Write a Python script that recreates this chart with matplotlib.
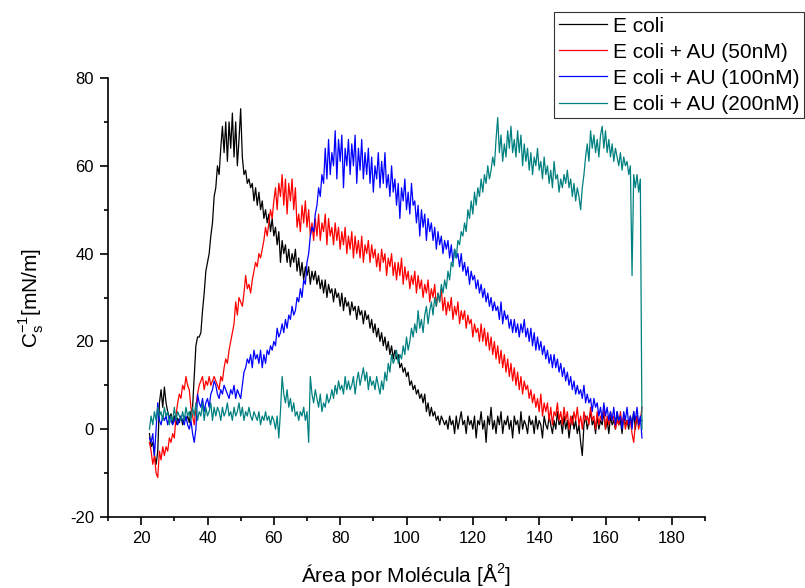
import numpy as np
import matplotlib
matplotlib.use("Agg")
import matplotlib.pyplot as plt
from matplotlib.ticker import MultipleLocator

plt.rcParams['font.family'] = ['Liberation Sans', 'DejaVu Sans']
plt.rcParams['mathtext.fontset'] = 'custom'
plt.rcParams['mathtext.rm'] = 'Liberation Sans'
plt.rcParams['axes.unicode_minus'] = False

# Data: x sampled every 0.5 A^2 starting at 22.5
x_start = 22.5
x_step = 0.5

labels = ["E coli", "E coli + AU (50nM)", "E coli + AU (100nM)", "E coli + AU (200nM)"]
colors = ["#000000", "#ff0000", "#0000ff", "#008080"]

ecoli = [
    -1, -4, -3, -6, -8, -5, 6, 9, 5, 9.6,
    6, 4, 2.5, 3.5, 1.5, 3, 1, 2.5, 1.5, 3,
    1, 2.5, 2, 3, 1.5, 4, 5, 12, 19, 21,
    21, 22, 27, 31, 36, 38, 40, 44, 47, 53,
    55, 60, 58, 64, 69, 63, 70, 61, 70, 64,
    72, 62, 70, 60, 66, 73, 62, 58, 59, 56,
    57, 55, 56, 52, 55, 51, 54, 50, 52, 48,
    50, 47, 49, 45, 48, 44, 46, 42, 45, 38,
    43, 40, 42, 38, 41, 37, 40, 38, 41, 36,
    39, 35, 38, 34, 37, 35, 37, 33, 36, 34,
    36, 33, 35, 32, 34, 31, 34, 30, 33, 31,
    32, 29, 32, 30, 31, 28, 31, 27, 30, 28,
    29, 26, 29, 27, 28, 25, 28, 26, 27, 24,
    27, 25, 26, 23, 25, 22, 24, 21, 23, 20,
    22, 19, 21, 18, 20, 17, 19, 16, 18, 16,
    17, 14, 15, 13, 14, 12, 13, 10, 11, 9,
    10, 8, 9, 7, 8, 6, 8, 4, 6, 3,
    5, 3, 4, 2, 3, 1, 3, 2, 1, 2,
    0, 3, 1, 2, -1, 3, 0, 2, 4, 1,
    2, -1, 3, 1, 2, 0, 3, -2, 2, 1,
    4, 0, 2, -3, 3, 1, 5, 0, 2, -1,
    3, 1, 4, -1, 2, 1, 3, 0, 2, -2,
    3, 1, 2, -1, 4, 0, 2, 1, -1, 3,
    1, 2, -1, 3, 0, 2, 1, -2, 3, 1,
    0, 3, 1, -1, 2, 0, 4, 1, 2, -1,
    3, 0, 2, -2, 1, 3, 0, 2, -1, 1,
    -3, -6, 1, 3, 0, 2, 4, 1, 2, -1,
    3, 0, 2, 1, 4, 0, 2, -1, 3, 1,
    2, 0, 4, 1, 2, -1, 3, 1, 2, 0,
    3, 1, 4, 0, 3, 1, 2, 2,
]

au50 = [
    -3, -5, -8, -6, -10, -11, -5, -7, -4, -6,
    -4, -5, -2, -3, -1, -2, 3, 6, 8, 7,
    10, 9, 12, 10, 9, 5, 3, 1, 5, 8,
    10, 11, 12, 9, 11, 10, 12, 10, 11, 12,
    11, 10, 9, 12, 11, 14, 16, 15, 18, 20,
    22, 24, 29, 26, 30, 29, 28, 31, 35, 32,
    33, 31, 34, 36, 38, 37, 40, 39, 41, 43,
    46, 44, 47, 50, 48, 52, 55, 50, 56, 53,
    58, 51, 57, 49, 56, 52, 57, 50, 55, 46,
    49, 45, 51, 47, 52, 46, 50, 44, 47, 43,
    48, 44, 49, 43, 47, 45, 49, 42, 48, 44,
    46, 42, 47, 43, 46, 41, 45, 42, 46, 40,
    44, 41, 45, 39, 44, 40, 43, 39, 44, 38,
    42, 40, 43, 38, 42, 39, 41, 37, 40, 36,
    41, 38, 40, 35, 39, 37, 40, 35, 38, 34,
    38, 35, 39, 33, 37, 34, 36, 32, 35, 33,
    36, 31, 35, 32, 34, 30, 33, 31, 34, 29,
    32, 30, 33, 28, 31, 29, 32, 27, 30, 26,
    29, 27, 30, 25, 28, 26, 29, 24, 27, 25,
    27, 23, 26, 24, 25, 21, 24, 22, 23, 20,
    24, 20, 23, 19, 22, 18, 21, 17, 20, 16,
    19, 15, 18, 14, 17, 13, 16, 12, 15, 11,
    14, 10, 13, 9, 12, 8, 11, 9, 10, 7,
    9, 6, 8, 5, 7, 4, 8, 3, 6, 4,
    6, 2, 5, 1, 4, 3, 6, 2, 4, 1,
    5, 2, 4, 0, 3, 1, 4, 2, 5, 1,
    3, 0, 4, 2, 3, 1, 5, 2, 3, 0,
    4, 1, 3, 2, 5, 0, 3, 1, 4, 2,
    3, 0, 2, 1, 4, 1, 3, 0, 2, 1,
    2, -1, -3, 1, 3, 0, 2, 5,
]

au100 = [
    -2, -3, -1, -6, 0, 6, 2, 1, 3, 2,
    3, 1, 3, 2, 1, 2, 3, 1, 2, 3,
    2, 1, 3, 1, 0, 2, -1, -3, 0, 8,
    6, 5, 7, 4, 6, 7, 5, 8, 9, 11,
    10, 8, 7, 9, 8, 10, 9, 8, 7, 9,
    8, 10, 7, 9, 8, 7, 10, 13, 14, 16,
    15, 17, 14, 18, 16, 17, 15, 18, 14, 17,
    15, 18, 17, 19, 18, 20, 19, 23, 21, 22,
    24, 22, 25, 23, 26, 25, 28, 26, 27, 30,
    29, 32, 30, 34, 33, 38, 40, 44, 46, 45,
    49, 51, 55, 53, 58, 56, 64, 57, 66, 58,
    63, 60, 68, 57, 66, 61, 67, 55, 64, 60,
    66, 58, 65, 60, 67, 56, 64, 59, 66, 57,
    63, 58, 64, 56, 62, 54, 60, 57, 63, 55,
    61, 56, 63, 55, 58, 53, 60, 54, 57, 51,
    56, 48, 55, 52, 57, 50, 54, 49, 56, 51,
    52, 47, 51, 44, 50, 46, 49, 43, 48, 45,
    47, 43, 46, 41, 45, 42, 44, 40, 43, 41,
    43, 39, 42, 38, 41, 39, 40, 37, 40, 36,
    38, 35, 37, 33, 36, 34, 35, 32, 34, 31,
    33, 30, 32, 29, 31, 28, 30, 27, 29, 27,
    28, 25, 29, 24, 27, 25, 26, 23, 25, 22,
    25, 22, 24, 21, 24, 22, 25, 21, 23, 20,
    23, 19, 22, 18, 21, 18, 20, 17, 19, 16,
    18, 15, 17, 14, 17, 14, 16, 13, 15, 12,
    14, 11, 13, 10, 12, 9, 11, 8, 10, 8,
    9, 7, 10, 6, 8, 6, 7, 4, 7, 5,
    6, 3, 5, 2, 6, 3, 5, 2, 4, 2,
    5, 1, 4, 2, 3, 0, 4, 2, 5, 1,
    3, 0, 4, 2, 5, 1, 3, -2,
]

au200 = [
    0, 3, 1, 4, 2, 5, 3, 4, 2, 5,
    3, 4, 1, 3, 2, 5, 2, 4, 3, 2,
    4, 2, 5, 3, 4, 2, 5, 3, 6, 2,
    4, 3, 6, 2, 5, 3, 4, 6, 2, 5,
    3, 5, 4, 2, 5, 3, 4, 6, 3, 4,
    2, 5, 3, 4, 6, 3, 5, 2, 4, 3,
    5, 3, 2, 4, 3, 2, 4, 1, 3, 2,
    4, 2, 3, 1, 3, 2, 0, 3, -2, 4,
    12, 8, 6, 9, 5, 7, 4, 6, 3, 4,
    2, 4, 3, 5, 2, 4, -3, 12, 8, 6,
    9, 7, 5, 8, 4, 6, 5, 8, 6, 7,
    9, 7, 10, 8, 11, 9, 10, 8, 12, 9,
    11, 9, 10, 12, 8, 11, 13, 10, 12, 14,
    11, 13, 9, 12, 10, 11, 9, 12, 10, 8,
    11, 9, 13, 11, 15, 13, 17, 15, 16, 18,
    15, 17, 16, 19, 17, 21, 18, 20, 23, 21,
    24, 22, 27, 23, 25, 22, 26, 28, 24, 27,
    29, 26, 30, 28, 31, 29, 33, 31, 34, 32,
    36, 34, 38, 37, 41, 39, 43, 42, 45, 44,
    47, 45, 50, 48, 52, 49, 54, 51, 55, 53,
    57, 54, 58, 56, 60, 57, 59, 62, 60, 66,
    71, 63, 67, 61, 65, 62, 68, 64, 69, 63,
    66, 62, 68, 63, 67, 60, 65, 61, 64, 59,
    63, 58, 62, 60, 64, 59, 61, 57, 62, 58,
    60, 56, 59, 55, 61, 57, 58, 54, 57, 55,
    58, 56, 59, 55, 57, 53, 56, 52, 55, 53,
    50, 55, 58, 62, 65, 61, 68, 64, 67, 63,
    66, 62, 67, 69, 64, 68, 63, 66, 62, 65,
    61, 64, 62, 60, 63, 59, 62, 60, 61, 58,
    60, 35, 58, 55, 58, 54, 57, 0,
]

series = [ecoli, au50, au100, au200]

fig = plt.figure(figsize=(8.05, 5.88), dpi=100)
ax = fig.add_axes([108/805, 1 - 517/588, 597/805, 439/588])

for y, c, lab in zip(series, colors, labels):
    y = np.asarray(y, dtype=float)
    x = x_start + x_step * np.arange(len(y))
    ax.plot(x, y, color=c, lw=0.9, label=lab)

ax.set_xlim(10, 190)
ax.set_ylim(-20, 80)
ax.xaxis.set_major_locator(MultipleLocator(20))
ax.xaxis.set_minor_locator(MultipleLocator(10))
ax.yaxis.set_major_locator(MultipleLocator(20))
ax.yaxis.set_minor_locator(MultipleLocator(10))
ax.set_xticks([20, 40, 60, 80, 100, 120, 140, 160, 180])
ax.spines['top'].set_visible(False)
ax.spines['right'].set_visible(False)
ax.spines['left'].set_linewidth(1.2)
ax.spines['bottom'].set_linewidth(1.2)
ax.tick_params(axis='both', which='major', direction='out', length=6, width=1.2, labelsize=12, pad=4)
ax.tick_params(axis='both', which='minor', direction='out', length=3, width=1.2)

ax.set_xlabel("Área por Molécula [Å$^2$]", fontsize=15, labelpad=11)
ax.set_ylabel(r"C$_\mathregular{s}^\mathregular{-1}$[mN/m]", fontsize=15, labelpad=17)

leg = fig.legend(loc='upper left', bbox_to_anchor=(554/805, 1 - 12/588),
                 fontsize=15, frameon=True, fancybox=False, edgecolor='black',
                 borderpad=0.22, labelspacing=0.34, handlelength=2.3, handletextpad=0.32,
                 borderaxespad=0)
leg.get_frame().set_linewidth(0.8)

fig.savefig("out.png", dpi=100)
